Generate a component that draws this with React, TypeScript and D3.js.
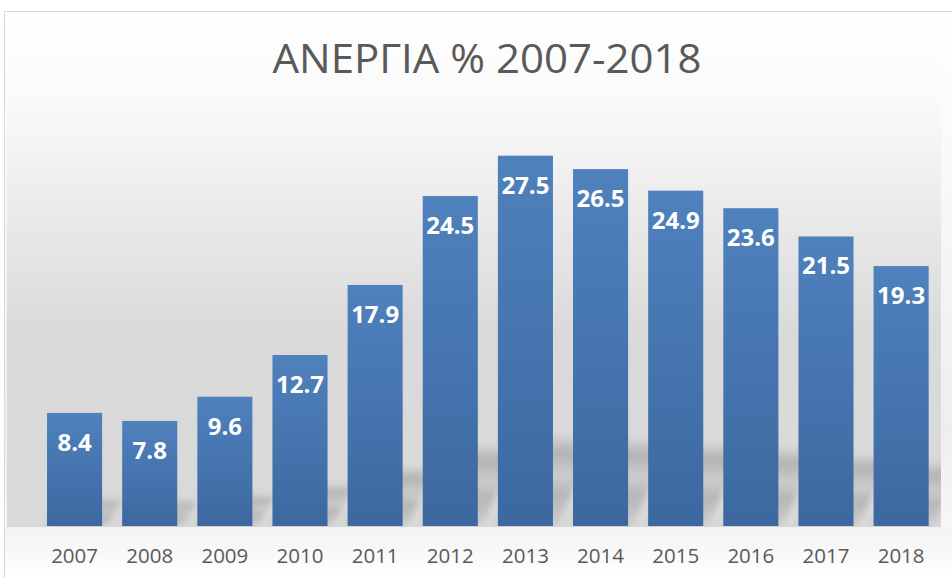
import React from "react";
import * as d3 from "d3";

const years = ["2007","2008","2009","2010","2011","2012","2013","2014","2015","2016","2017","2018"];
const values = [8.4, 7.8, 9.6, 12.7, 17.9, 24.5, 27.5, 26.5, 24.9, 23.6, 21.5, 19.3];
const title = "ΑΝΕΡΓΙΑ % 2007-2018";

const W = 952;
const H = 578;
const base = 526;

export default function App() {
  const x = d3.scaleBand<string>().domain(years).range([37, 938.7]).paddingInner(0.267).paddingOuter(0.1335);
  const y = d3.scaleLinear().domain([0, 30]).range([base, 122]);
  const bw = x.bandwidth();

  return (
    <svg width={W} height={H} style={{ position: "absolute", left: 0, top: 0 }} fontFamily="'Open Sans', sans-serif">
      <defs>
        <linearGradient id="chartBg" x1="0" y1="0" x2="0" y2="1">
          <stop offset="0" stopColor="#ffffff" />
          <stop offset="0.7" stopColor="#eeeeee" />
          <stop offset="1" stopColor="#ffffff" />
        </linearGradient>
        <linearGradient id="plotBg" gradientUnits="userSpaceOnUse" x1="0" y1="11" x2="0" y2={base}>
          <stop offset="0" stopColor="#ffffff" />
          <stop offset="0.17" stopColor="#fafafa" />
          <stop offset="0.62" stopColor="#dadada" />
          <stop offset="1" stopColor="#d9d9d9" />
        </linearGradient>
        <linearGradient id="bottomBg" gradientUnits="userSpaceOnUse" x1="0" y1={base} x2="0" y2={H}>
          <stop offset="0" stopColor="#f2f2f2" />
          <stop offset="1" stopColor="#ffffff" />
        </linearGradient>
        <linearGradient id="barGrad" x1="0" y1="0" x2="0" y2="1">
          <stop offset="0" stopColor="#4f81bd" />
          <stop offset="1" stopColor="#3c68a0" />
        </linearGradient>
        <linearGradient id="shadowGrad" x1="0" y1="1" x2="0" y2="0">
          <stop offset="0" stopColor="#000" stopOpacity="0.05" />
          <stop offset="0.35" stopColor="#000" stopOpacity="0.16" />
          <stop offset="0.55" stopColor="#000" stopOpacity="0.06" />
          <stop offset="0.8" stopColor="#000" stopOpacity="0.18" />
          <stop offset="1" stopColor="#000" stopOpacity="0" />
        </linearGradient>
        <filter id="blur" x="-50%" y="-50%" width="200%" height="200%">
          <feGaussianBlur stdDeviation="3" />
        </filter>
        <clipPath id="plotClip">
          <rect x={7} y={11} width={934} height={base - 11 + 1} />
        </clipPath>
      </defs>

      <rect x={4.5} y={11.5} width={970} height={600} fill="url(#chartBg)" stroke="#d9d9d9" strokeWidth={1} />
      <rect x={7} y={12} width={934} height={base + 1 - 12} fill="url(#plotBg)" />
      <rect x={5} y={base + 1} width={950} height={H - base} fill="url(#bottomBg)" />

      <text x={487} y={73} textAnchor="middle" fontSize={40} fill="#595959" textLength={429} lengthAdjust="spacingAndGlyphs">{title}</text>

      <g clipPath="url(#plotClip)">
        {years.map((yr, i) => {
          const x0 = x(yr)!;
          const x1 = x0 + bw;
          const hgt = base - y(values[i]);
          const sh = hgt * 0.25;
          const s = sh * 0.35;
          const pts = [
            [x0 - 4, base + 1],
            [x1 + 4, base + 1],
            [x1 + 12 + s, base - sh],
            [x0 + 12 + s, base - sh],
          ].map((p) => p.join(",")).join(" ");
          return <polygon key={"s" + yr} points={pts} fill="url(#shadowGrad)" filter="url(#blur)" />;
        })}
      </g>

      {years.map((yr, i) => (
        <rect key={"b" + yr} x={x(yr)} y={y(values[i])} width={bw} height={base - y(values[i])} fill="url(#barGrad)" />
      ))}

      {years.map((yr, i) => (
        <text key={"l" + yr} x={x(yr)! + bw / 2} y={y(values[i]) + 38} textAnchor="middle" fontSize={24} fontWeight={700} fill="#ffffff">
          {values[i].toFixed(1)}
        </text>
      ))}

      {years.map((yr) => (
        <text key={"t" + yr} x={x(yr)! + bw / 2} y={563} textAnchor="middle" fontSize={20.5} fill="#595959">
          {yr}
        </text>
      ))}
    </svg>
  );
}
